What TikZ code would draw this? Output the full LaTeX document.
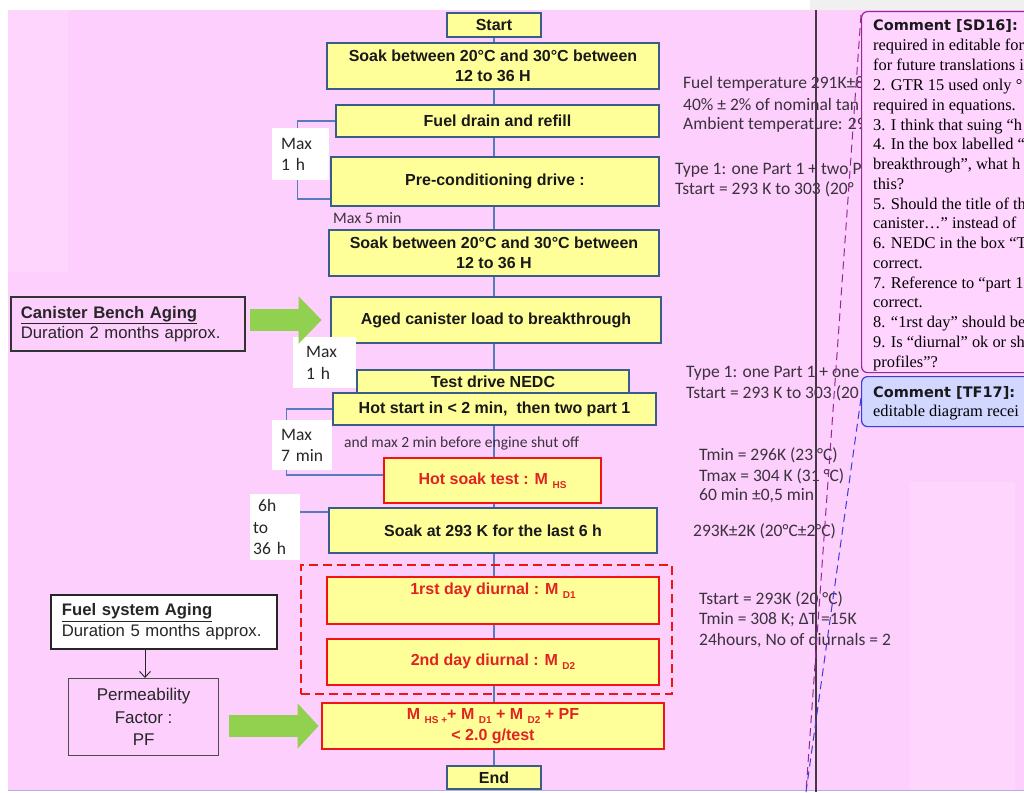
\documentclass[tikz,border=0pt]{standalone}
\usepackage{fontspec}
\setmainfont{Liberation Sans}
\newfontfamily\calfont{Carlito}
\newfontfamily\tmsfont{Liberation Serif}
\newfontfamily\dvsfont{DejaVu Sans}
\usetikzlibrary{arrows.meta}
\definecolor{bgpink}{RGB}{252,207,252}
\definecolor{bgpinkl}{RGB}{253,213,253}
\definecolor{topgray}{RGB}{240,240,240}
\definecolor{byellow}{RGB}{255,255,153}
\definecolor{bblue}{RGB}{58,92,138}
\definecolor{bred}{RGB}{240,20,20}
\definecolor{tred}{RGB}{225,35,35}
\definecolor{cline}{RGB}{85,125,190}
\definecolor{agreen}{RGB}{146,208,80}
\definecolor{notegray}{RGB}{60,50,62}
\definecolor{cpurple}{RGB}{150,40,150}
\definecolor{cpink}{RGB}{255,212,255}
\definecolor{cblue}{RGB}{60,60,220}
\definecolor{cbluef}{RGB}{210,215,255}
\definecolor{vline}{RGB}{65,58,68}
\pgfdeclarelayer{back}
\pgfsetlayers{back,main}
\newcommand{\subx}[1]{\raisebox{-4pt}{\fontsize{10}{10}\selectfont #1}}
\begin{document}
\begin{tikzpicture}[x=1pt,y=-1pt,
  ybox/.style={draw=bblue, line width=2.8pt, fill=byellow, inner sep=0pt, align=center,
    font=\bfseries\fontsize{16}{20}\selectfont, text=black!90},
  rbox/.style={ybox, draw=bred, text=tred},
  rtext/.style={inner sep=0pt, font=\bfseries\fontsize{16}{20}\selectfont, text=tred},
  conn/.style={draw=cline, line width=1.1pt},
  note/.style={anchor=west, inner sep=0pt, text=notegray, font=\calfont\fontsize{17.5}{20}\selectfont},
  smallnote/.style={anchor=west, inner sep=0pt, text=notegray, font=\calfont\fontsize{15.5}{18}\selectfont},
  wlab/.style={fill=white, inner ysep=0pt, anchor=north west, align=left,
    font=\calfont\fontsize{17.5}{21.5}\selectfont, text=black!85},
  cbody/.style={anchor=base west, inner sep=0pt, font=\tmsfont\fontsize{16.4}{19}\selectfont, text=black},
  ctitle/.style={anchor=base west, inner sep=0pt, font=\dvsfont\bfseries\fontsize{14.5}{17}\selectfont, text=black!90},
  garrow/.style={draw=agreen, line width=22pt}
]
\useasboundingbox (0,0) rectangle (1024,792);
\begin{pgfonlayer}{back}
  \fill[white] (0,0) rectangle (1024,792);
  \fill[topgray] (810,0) rectangle (1024,10);
  \fill[bgpink] (8,10) rectangle (1024,790);
  \fill[bgpinkl] (8,10) rectangle (68,272);
  \fill[bgpinkl] (910,482) rectangle (1015,790);
  \draw[draw={rgb,255:red,175;green,175;blue,220}, line width=1pt] (8,790.5) -- (1024,790.5);
\end{pgfonlayer}

% ---------- main flow boxes ----------
\node[ybox, minimum width=94pt, minimum height=24pt] (start) at (494,25) {Start};
\node[ybox, minimum width=332pt, minimum height=46pt] (soak1) at (493,66) {Soak between 20°C and 30°C between\\12 to 36 H};
\node[ybox, minimum width=323pt, minimum height=32pt] (fuel) at (497.5,121) {Fuel drain and refill};
\node[ybox, minimum width=328pt, minimum height=49pt] (precond) at (495,181.5) {Pre-conditioning drive :};
\node[ybox, minimum width=330pt, minimum height=46pt] (soak2) at (494,253) {Soak between 20°C and 30°C between\\12 to 36 H};
\node[ybox, minimum width=330pt, minimum height=46pt] (aged) at (496,320) {Aged canister load to breakthrough};
\node[ybox, minimum width=272pt, minimum height=24pt] (nedc) at (493,382) {Test drive NEDC};
\node[ybox, minimum width=323pt, minimum height=32pt] (hotstart) at (494.5,409) {Hot start in < 2 min,\ \ then two part 1};
\node[rbox, minimum width=217pt, minimum height=45pt] (hotsoak) at (492.5,480.5) {Hot soak test : M \subx{HS}};
\node[ybox, minimum width=328pt, minimum height=45pt] (soak3) at (493,530.5) {Soak at 293 K for the last 6 h};
\node[draw=bred, line width=2.8pt, dash pattern=on 9pt off 5pt, minimum width=371pt, minimum height=129pt, inner sep=0pt] (grp) at (486.5,629.5) {};
\node[rbox, minimum width=332pt, minimum height=47pt] (d1) at (493,600.5) {};
\node[rtext] (d1t) at (493,591) {1rst day diurnal : M \subx{D1}};
\node[rbox, minimum width=332pt, minimum height=46pt] (d2) at (493,662) {2nd day diurnal : M \subx{D2}};
\node[rbox, minimum width=342pt, minimum height=46pt] (final) at (493,726) {M \subx{HS +}+ M \subx{D1} + M \subx{D2} + PF\\[1pt]< 2.0 g/test};
\node[ybox, minimum width=94pt, minimum height=23pt] (end) at (494,777.5) {End};

% ---------- connectors (behind boxes) ----------
\begin{pgfonlayer}{back}
  \foreach \a/\b in {start/soak1, soak1/fuel, fuel/precond, precond/soak2, soak2/aged, aged/nedc,
      nedc/hotstart, hotstart/hotsoak, hotsoak/soak3, soak3/d1, d1/d2, d2/final, final/end}
    \draw[conn] (\a.south -| start) -- (\b.north -| start);
  % brackets
  \draw[conn] (fuel.west) -- ++(-37,0) |- ([yshift=-17.5pt]precond.west);
  \draw[conn] ([yshift=-22pt]aged.west) -- ++(-31,0) |- (nedc.west);
  \draw[conn] (hotstart.west) -- ++(-45,0) |- ([yshift=5.5pt]hotsoak.west);
  \draw[conn] ([yshift=18.5pt]soak3.west) -- ++(-29,0) -- ++(0,29);
\end{pgfonlayer}

% ---------- white time labels ----------
\node[wlab, inner xsep=9pt, text width=39pt, minimum width=57pt, minimum height=52pt] (lab1) at (272,128) {Max\\1 h};
\node[wlab, inner xsep=13pt, text width=37pt, minimum width=63pt, minimum height=51pt] (lab2) at (293,337) {Max\\1 h};
\node[wlab, inner xsep=9pt, text width=42pt, minimum width=60pt, minimum height=50pt] (lab3) at (272,420) {Max\\7 min};
\node[wlab, inner xsep=3pt, text width=44pt, minimum width=50pt, minimum height=66pt] (lab4) at (250,494) {\hspace{5pt}6h\\to\\36 h};

\node[smallnote, font=\calfont\fontsize{16}{18}\selectfont] (max5) at (333,218) {Max 5 min};
\node[smallnote] (shutoff) at (344,443) {and max 2 min before engine shut off};

% ---------- left side boxes ----------
\node[draw=black!80, line width=1.8pt, fill=bgpink, minimum width=234pt, minimum height=54pt,
  text width=214pt, inner xsep=10pt, inner ysep=0pt, align=left, anchor=north west,
  font=\fontsize{16.7}{20}\selectfont, text=black!85] (cba) at (10,296)
  {\textbf{\underline{Canister Bench Aging}}\\Duration 2 months approx.};
\node[draw=black!85, line width=1.8pt, fill=white, minimum width=226pt, minimum height=54pt,
  text width=204pt, inner xsep=11pt, inner ysep=0pt, align=left, anchor=north west,
  font=\fontsize{16.7}{20.5}\selectfont, text=black!85] (fsa) at (50,594)
  {\textbf{\underline{Fuel system Aging}}\\Duration 5 months approx.};
\node[draw=black!70, line width=1.3pt, fill=bgpink, minimum width=150pt, minimum height=77pt,
  inner sep=0pt, align=center, anchor=north west,
  font=\fontsize{17}{22.5}\selectfont, text=black!85] (pf) at (68,678)
  {Permeability\\Factor :\\PF};

\draw[black!85, line width=0.9pt, -{Straight Barb[length=6pt,width=11pt]}] (fsa.south -| 145,0) -- (pf.north -| 145,0);
\draw[garrow, shorten <=4pt, shorten >=8pt, -{Triangle[length=23pt,width=46pt]}] (cba.east |- aged.west) -- (aged.west);
\draw[garrow, shorten <=10pt, shorten >=2pt, -{Triangle[length=21pt,width=44pt]}] (pf.east |- final.west) -- (final.west);

% ---------- right notes ----------
\node[note] (n1) at (683,84) {Fuel temperature 291K±8};
\node[note] (n2) at (683,104.5) {40\% ± 2\% of nominal tan};
\node[note] (n3) at (683,125) {Ambient temperature: 29};
\node[note] (n4) at (675,170) {Type 1: one Part 1 + two P};
\node[note] (n5) at (675,189.5) {Tstart = 293 K to 303 (20°};
\node[note] (n6) at (686,373) {Type 1: one Part 1 + one};
\node[note] (n7) at (686,393) {Tstart = 293 K to 303 (20};
\node[note] (n8) at (699,455) {Tmin = 296K (23 °C)};
\node[note] (n9) at (699,476) {Tmax = 304 K (31 °C)};
\node[note] (n10) at (699,496) {60 min ±0,5 min};
\node[note] (n11) at (693,531) {293K±2K (20°C±2°C)};
\node[note] (n12) at (699,599) {Tstart = 293K (20 °C)};
\node[note] (n13) at (699,620) {Tmin = 308 K; ΔT =15K};
\node[note] (n14) at (699,641) {24hours, No of diurnals = 2};

\draw[vline, line width=2pt] (816,10) -- (816,792);

% ---------- comment balloons ----------
\node[draw=cpurple, fill=cpink, rounded corners=6pt, line width=1.2pt, minimum width=190pt,
  minimum height=361pt, anchor=north west, inner sep=0pt] (sd16) at (861,11) {};
\node[draw=cblue, fill=cbluef, rounded corners=6pt, line width=1.2pt, minimum width=190pt,
  minimum height=50pt, anchor=north west, inner sep=0pt] (tf17) at (861,376) {};
\coordinate (dend) at (806,792);
\draw[cpurple, line width=1pt, dash pattern=on 8pt off 5pt] ([yshift=-4pt]sd16.north west) -- (dend);
\draw[cblue, line width=1pt, dash pattern=on 8pt off 5pt] ([yshift=-22pt]tf17.north west) -- (dend);

\begin{scope}
  \clip (861,0) rectangle (1024,792);
  \node[ctitle] (sdt) at (873,31) {Comment [SD16]:};
  \foreach \t [count=\i] in {{required in editable for},{for future translations i},{2. GTR 15 used only °},
      {required in equations.},{3. I think that suing “h},{4. In the box labelled “},{breakthrough”, what h},
      {this?},{5. Should the title of th},{canister…” instead of},{6. NEDC in the box “T},{correct.},
      {7. Reference to “part 1},{correct.},{8. “1rst day” should be},{9. Is “diurnal” ok or sh},{profiles”?}}
    \node[cbody] (sdl\i) at (873,{51+19.75*(\i-1)}) {\t};
  \node[ctitle] (tft) at (873,397) {Comment [TF17]:};
  \node[cbody] (tfl) at (873,416) {editable diagram recei};
\end{scope}
\end{tikzpicture}
\end{document}
